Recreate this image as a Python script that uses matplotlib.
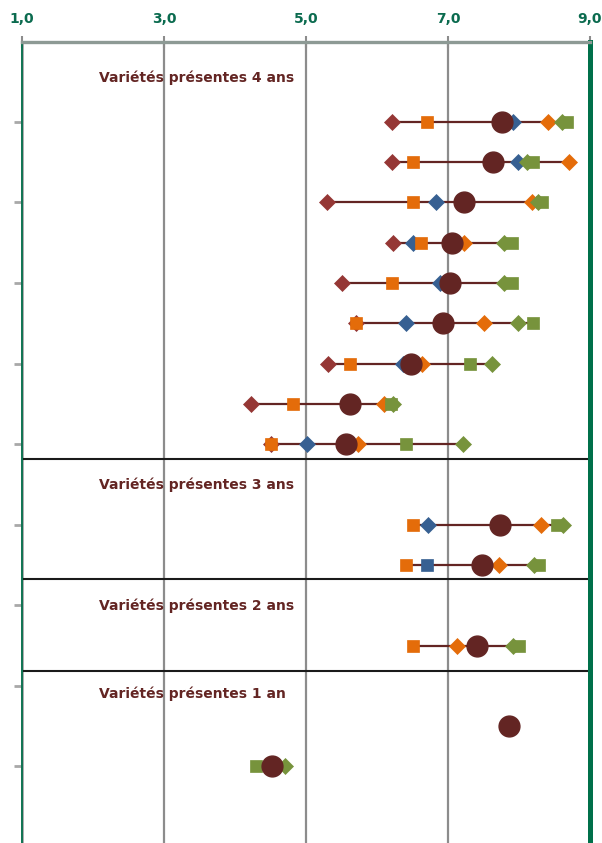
import numpy as np
import matplotlib
matplotlib.use("Agg")
import matplotlib.pyplot as plt

nan = np.nan
# row positions (top to bottom)
rows = [1, 2, 3, 4, 5, 6, 7, 8, 9, 11, 12, 14, 16, 17]
red_diamond = [6.21, 6.21, 5.30, 6.22, 5.51, 5.70, 5.31, 4.23, 4.51, nan, nan, nan, nan, nan]
blue_diamond = [7.92, 7.99, 6.83, 6.51, 6.89, 6.41, 6.37, nan, 5.01, 6.72, nan, nan, nan, nan]
blue_square = [nan, nan, nan, nan, nan, nan, nan, nan, nan, nan, 6.70, nan, nan, nan]
orange_square = [6.70, 6.51, 6.51, 6.62, 6.21, 5.70, 5.62, 4.82, 4.51, 6.51, 6.41, 6.51, nan, nan]
orange_diamond = [8.41, 8.70, 8.18, 7.23, 7.00, 7.51, 6.63, 6.10, 5.73, 8.31, 7.72, 7.13, nan, nan]
green_diamond = [8.61, 8.11, 8.27, 7.79, 7.79, 7.99, 7.62, 6.23, 7.21, 8.62, 8.21, 7.92, nan, 4.70]
green_square = [8.68, 8.20, 8.32, 7.90, 7.90, 8.20, 7.31, 6.20, 6.41, 8.54, 8.28, 8.00, nan, 4.30]
mean_vals = [7.76, 7.63, 7.23, 7.06, 7.03, 6.93, 6.48, 5.62, 5.56, 7.73, 7.48, 7.41, 7.86, 4.52]

section_labels = ["Variétés présentes 4 ans", "Variétés présentes 3 ans",
                  "Variétés présentes 2 ans", "Variétés présentes 1 an"]
section_rows = [-0.1, 10.0, 13.0, 15.2]
separators = [9.37, 12.36, 14.62]
xticks = [1, 3, 5, 7, 9]
xticklabels = ["1,0", "3,0", "5,0", "7,0", "9,0"]
yticks = [1, 3, 5, 7, 9, 11, 13, 15, 17]

fig = plt.figure(figsize=(6.02, 8.43), dpi=100)
ax = fig.add_axes([22/602, 0.0, (590-22)/602, 1 - 42/843])
ax.set_xlim(1, 9)
ax.set_ylim(18.9, -0.98)

for gx in [3, 5, 7]:
    ax.axvline(gx, color="#8c8c8c", lw=1.6, zorder=1)
ax.axvline(1.02, color="#a0a0a0", lw=1.2, zorder=1)
for sy in separators:
    ax.axhline(sy, color="#1a1a1a", lw=1.5, zorder=2)

series = [
    (red_diamond, "D", "#953735", 8.5),
    (blue_diamond, "D", "#376092", 8.5),
    (blue_square, "s", "#376092", 8.5),
    (orange_square, "s", "#E46C0A", 8.5),
    (orange_diamond, "D", "#E46C0A", 8.5),
    (green_diamond, "D", "#77933C", 8.5),
    (green_square, "s", "#77933C", 8.5),
]

allvals = np.array([s[0] for s in series] + [mean_vals], dtype=float)
for i, r in enumerate(rows):
    col = allvals[:, i]
    col = col[~np.isnan(col)]
    if len(col) > 1:
        ax.plot([col.min(), col.max()], [r, r], color="#632523", lw=1.6,
                solid_capstyle="butt", zorder=3)

for vals, mk, c, ms in series:
    ax.plot(vals, rows, ls="none", marker=mk, color=c, ms=ms, mec=c, mew=0.5, zorder=4)
ax.plot(mean_vals, rows, ls="none", marker="o", color="#632523", ms=15,
        mec="#632523", zorder=5)

for lab, yr in zip(section_labels, section_rows):
    ax.text(2.08, yr, lab, color="#632523", fontsize=10, fontweight="bold",
            family=["DejaVu Sans"], va="center", ha="left", zorder=6)

ax.xaxis.tick_top()
ax.set_xticks(xticks)
ax.set_xticklabels(xticklabels, color="#0B6B4F", fontsize=10, fontweight="bold")
ax.tick_params(axis="x", direction="inout", length=9, width=1.5, color="#8c8c8c", pad=7)
ax.set_yticks(yticks)
ax.set_yticklabels([])
ax.tick_params(axis="y", direction="out", length=6, width=2, color="#a8a8a8")

ax.spines["bottom"].set_visible(False)
ax.spines["top"].set_color("#8d9a95")
ax.spines["top"].set_linewidth(2.4)
ax.spines["left"].set_color("#0E7352")
ax.spines["left"].set_linewidth(1.4)
ax.spines["right"].set_color("#00704A")
ax.spines["right"].set_linewidth(3.6)

fig.savefig("out.png", dpi=100)
